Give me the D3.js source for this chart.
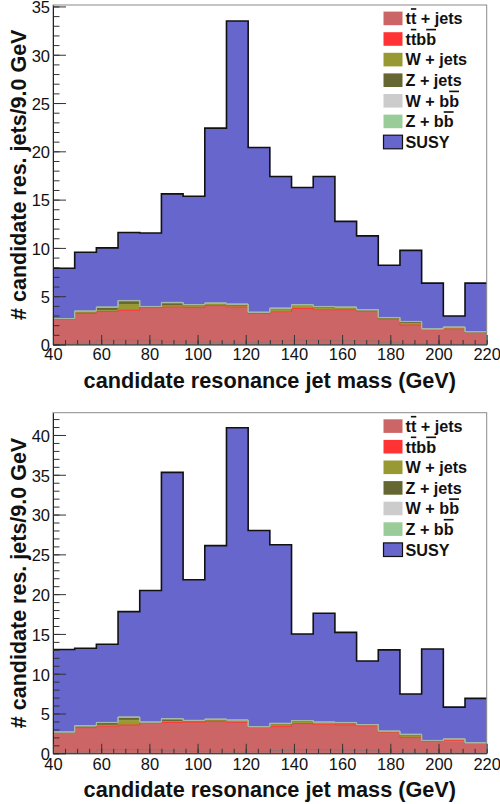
<!DOCTYPE html>
<html>
<head>
<meta charset="utf-8">
<script src="https://cdn.jsdelivr.net/npm/d3@7"></script>
<style>
  html, body { margin: 0; padding: 0; background: #fff; }
  svg { display: block; }
  text { font-family: "Liberation Sans", Arial, Helvetica, sans-serif; }
</style>
</head>
<body>
<svg id="chart" width="500" height="804"></svg>
<script>
// ---------- DATA ----------
// lower bin edges (GeV), bins of 9 GeV
const binLow = [40, 49, 58, 67, 76, 85, 94, 103, 112, 121, 130, 139, 148, 157, 166, 175, 184, 193, 202, 211];
const xMin = 40, xMax = 220;
const xTickLabels = [40, 60, 80, 100, 120, 140, 160, 180, 200, 220];

// Standard Model backgrounds (same in both panels)
const ttJets = [2.60, 3.20, 3.38, 3.47, 3.80, 3.85, 3.78, 4.00, 3.87, 3.15, 3.35, 3.70, 3.50, 3.55, 3.42, 2.63, 1.98, 1.52, 1.52, 1.22];
const ttbb   = [0.02, 0.03, 0.03, 0.08, 0.02, 0.03, 0.07, 0.03, 0.02, 0.07, 0.03, 0.03, 0.10, 0.03, 0.03, 0.02, 0.03, 0.02, 0.10, 0.02];
const wJets  = [0.00, 0.15, 0.12, 0.60, 0.05, 0.12, 0.20, 0.18, 0.10, 0.05, 0.30, 0.30, 0.25, 0.22, 0.08, 0.05, 0.18, 0.02, 0.10, 0.03];
const zJets  = [0.00, 0.02, 0.28, 0.33, 0.00, 0.28, 0.02, 0.02, 0.13, 0.00, 0.03, 0.02, 0.02, 0.02, 0.02, 0.03, 0.14, 0.00, 0.03, 0.00];
const wbb    = [0.05, 0.05, 0.05, 0.06, 0.05, 0.06, 0.05, 0.05, 0.05, 0.06, 0.04, 0.05, 0.05, 0.04, 0.04, 0.05, 0.04, 0.04, 0.04, 0.04];
const zbb    = [0.02, 0.02, 0.02, 0.02, 0.02, 0.02, 0.02, 0.02, 0.02, 0.02, 0.02, 0.02, 0.02, 0.02, 0.02, 0.02, 0.02, 0.02, 0.02, 0.02];
// faint unstacked outline seen near the bottom of the stack
const faintOutline = [0.05, 0.15, 0.45, 0.48, 0.45, 0.30, 0.25, 0.18, 0.15, 0.20, 0.35, 0.45, 0.45, 0.40, 0.38, 0.20, 0.10, 0.05, 0.05, 0.05];

// SUSY signal, top and bottom panels
const susyTop    = [5.21, 6.08, 6.12, 7.04, 7.61, 11.24, 11.21, 18.10, 29.31, 17.05, 13.63, 12.13, 13.46, 8.87, 7.64, 5.40, 7.36, 4.73, 1.14, 5.02];
const susyBottom = [10.36, 9.73, 9.82, 13.24, 16.51, 30.94, 17.66, 21.80, 36.71, 24.65, 22.43, 10.88, 13.66, 11.32, 7.99, 10.20, 5.06, 11.48, 3.99, 5.57];

const seriesNames  = ["ttJets", "ttbb", "wJets", "zJets", "wbb", "zbb", "susy"];
const seriesColors = ["#cc6666", "#ff3333", "#999933", "#666633", "#cccccc", "#99cc99", "#6666cc"];
const legendLabels = [
  [{t: "t"}, {t: "t", bar: true}, {t: " + jets"}],
  [{t: "t"}, {t: "t", bar: true}, {t: "b"}, {t: "b", bar: true}],
  [{t: "W + jets"}],
  [{t: "Z + jets"}],
  [{t: "W + b"}, {t: "b", bar: true}],
  [{t: "Z + b"}, {t: "b", bar: true}],
  [{t: "SUSY"}]
];

const xTitle = "candidate resonance jet mass (GeV)";
const yTitle = "# candidate res. jets/9.0 GeV";

// ---------- DRAW ----------
const svg = d3.select("#chart");

function drawPanel(cfg) {
  const {top, bottom, yMax, susy, xTitleY, xLabelPad} = cfg;
  const left = 53, right = 486.7;
  const x = d3.scaleLinear().domain([xMin, xMax]).range([left, right]);
  const y = d3.scaleLinear().domain([0, yMax]).range([bottom, top]);
  const g = svg.append("g");

  const rows = binLow.map((b, i) => ({
    x: b, ttJets: ttJets[i], ttbb: ttbb[i], wJets: wJets[i], zJets: zJets[i],
    wbb: wbb[i], zbb: zbb[i], susy: susy[i]
  }));
  // closing point for step curves
  const rowsExt = rows.concat([Object.assign({}, rows[rows.length - 1], {x: xMax})]);
  const stacked = d3.stack().keys(seriesNames)(rowsExt);

  const area = d3.area().curve(d3.curveStepAfter)
    .x(d => x(d.data.x)).y0(d => y(d[0])).y1(d => y(d[1]));

  const order = [6, 0, 1, 2, 3, 4, 5];
  order.forEach(k => {
    g.append("path").attr("d", area(stacked[k]))
      .attr("fill", seriesColors[k]).attr("stroke", "none");
  });
  const edge = d3.line().curve(d3.curveStepAfter).x(d => x(d.data.x)).y(d => y(d[1]));
  [0, 1, 2, 3, 4, 5].forEach(k => {
    g.append("path").attr("d", edge(stacked[k]))
      .attr("fill", "none").attr("stroke", seriesColors[k])
      .attr("stroke-width", 1).attr("opacity", 0.9);
  });
  g.append("path").attr("d", edge(stacked[5]))
    .attr("fill", "none").attr("stroke", "#aaaaaa").attr("stroke-width", 1).attr("opacity", 0.6);

  // faint outline near bottom
  const fo = binLow.map((b, i) => ({x: b, v: faintOutline[i]}));
  fo.push({x: xMax, v: faintOutline[faintOutline.length - 1]});
  g.append("path")
    .attr("d", d3.line().curve(d3.curveStepAfter).x(d => x(d.x)).y(d => y(d.v))(fo))
    .attr("fill", "none").attr("stroke", "#a07070").attr("stroke-width", 1);

  // black outline of total stack
  g.append("path").attr("d", edge(stacked[6]))
    .attr("fill", "none").attr("stroke", "#111").attr("stroke-width", 1.6);

  // frame
  g.append("rect").attr("x", left).attr("y", top)
    .attr("width", right - left).attr("height", bottom - top)
    .attr("fill", "none").attr("stroke", "#8a8a8a").attr("stroke-width", 1);

  // y axis
  const yMinor = d3.range(0, Math.floor(yMax) + 1, 1);
  const yMajor = d3.range(0, Math.floor(yMax) + 1, 5);
  g.append("g").attr("transform", `translate(${left},0)`)
    .call(d3.axisLeft(y).tickValues(yMinor).tickSize(-6.5).tickFormat(""))
    .call(a => a.select(".domain").remove())
    .call(a => a.selectAll("line").attr("stroke", "#333"));
  g.append("g").attr("transform", `translate(${left},0)`)
    .call(d3.axisLeft(y).tickValues(yMajor).tickSizeInner(-13).tickSizeOuter(0).tickPadding(3).tickFormat(d3.format("d")))
    .call(a => a.select(".domain").attr("stroke", "#222"))
    .call(a => a.selectAll("line").attr("stroke", "#333"))
    .call(a => a.selectAll("text").attr("font-size", 16.5).attr("fill", "#111").attr("dy", "0.38em")
      .style("font-family", '"Liberation Sans", Arial, sans-serif'));

  // x axis
  const xMinor = d3.range(xMin, xMax + 1, 5);
  g.append("g").attr("transform", `translate(0,${bottom})`)
    .call(d3.axisBottom(x).tickValues(xMinor).tickSize(-4.5).tickFormat(""))
    .call(a => a.select(".domain").remove())
    .call(a => a.selectAll("line").attr("stroke", "#333"));
  g.append("g").attr("transform", `translate(0,${bottom})`)
    .call(d3.axisBottom(x).tickValues(xTickLabels).tickSizeInner(-9.5).tickSizeOuter(0).tickPadding(xLabelPad).tickFormat(d3.format("d")))
    .call(a => a.select(".domain").attr("stroke", "#222"))
    .call(a => a.selectAll("line").attr("stroke", "#333"))
    .call(a => a.selectAll("text").attr("font-size", 16.5).attr("fill", "#111")
      .style("font-family", '"Liberation Sans", Arial, sans-serif'));

  // titles
  g.append("text").attr("x", (left + right) / 2).attr("y", xTitleY)
    .attr("text-anchor", "middle").attr("font-weight", "bold").attr("font-size", 21.7)
    .attr("fill", "#111").text(xTitle);
  g.append("text")
    .attr("transform", `translate(25.5,${(top + bottom) / 2}) rotate(-90)`)
    .attr("text-anchor", "middle").attr("font-weight", "bold").attr("font-size", 21.5)
    .attr("fill", "#111").text(yTitle);

  // legend
  const lg = g.append("g");
  legendLabels.forEach((lab, i) => {
    const cy = top + 13.4 + i * 20.6;
    lg.append("rect").attr("x", 383.5).attr("y", cy - 6.8)
      .attr("width", 19).attr("height", 13.6)
      .attr("fill", seriesColors[i])
      .attr("stroke", i === 6 ? "#111" : "none").attr("stroke-width", 1.2);
    const t = lg.append("text").attr("x", 405.5).attr("y", cy + 5.8)
      .attr("font-size", 16.2).attr("font-weight", "bold").attr("fill", "#111");
    lab.forEach(seg => {
      const ts = t.append("tspan").text(seg.t);
      if (seg.bar) ts.style("text-decoration", "overline");
    });
  });
}

drawPanel({top: 5, bottom: 344.5, yMax: 35.15, susy: susyTop, xTitleY: 387.5, xLabelPad: 4});
drawPanel({top: 412.7, bottom: 753.3, yMax: 42.8, susy: susyBottom, xTitleY: 796.5, xLabelPad: 5});
</script>
</body>
</html>
